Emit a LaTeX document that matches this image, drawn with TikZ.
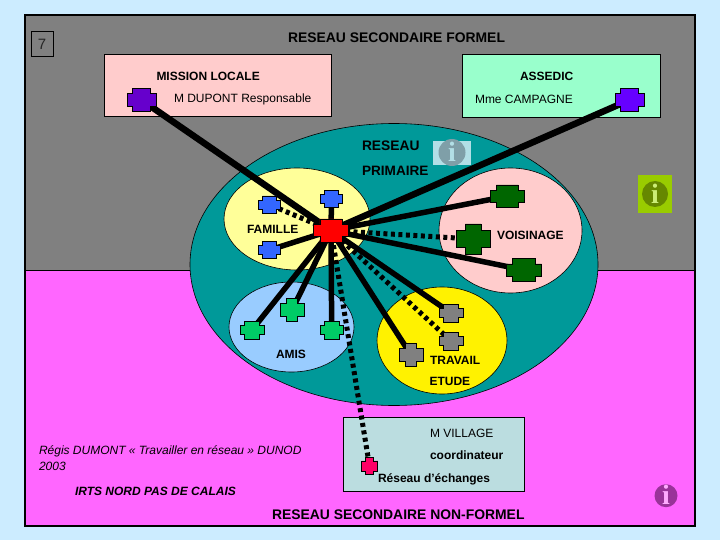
\documentclass[tikz,border=0pt]{standalone}
\usepackage{fontspec}
\setmainfont{Liberation Sans}
\newfontfamily\iconfont{Liberation Serif}
\usetikzlibrary{shapes.geometric}
\definecolor{pagebg}{HTML}{CCECFF}
\definecolor{upperbg}{HTML}{808080}
\definecolor{lowerbg}{HTML}{FF66FF}
\definecolor{tealbg}{HTML}{009999}
\definecolor{famillebg}{HTML}{FFFF99}
\definecolor{voisinbg}{HTML}{FFCCCC}
\definecolor{amisbg}{HTML}{99CCFF}
\definecolor{assedicbg}{HTML}{99FFCC}
\definecolor{villagebg}{HTML}{BBDDE0}
\definecolor{cpurple}{HTML}{6600CC}
\definecolor{cviolet}{HTML}{6600FF}
\definecolor{cblue}{HTML}{3366FF}
\definecolor{cdark}{HTML}{006600}
\definecolor{cgreen}{HTML}{00CC66}
\definecolor{cgrey}{HTML}{808080}
\definecolor{cpink}{HTML}{FF0066}
\definecolor{iboxa}{HTML}{B2DFE6}
\definecolor{idisca}{HTML}{7F9FA8}
\definecolor{iboxb}{HTML}{99CC00}
\definecolor{idiscb}{HTML}{668800}
\definecolor{itxtb}{HTML}{CCEE77}
\definecolor{idiscc}{HTML}{993399}
\definecolor{itxtc}{HTML}{FFAAFF}
\pgfdeclarelayer{back}
\pgfdeclarelayer{lines}
\pgfsetlayers{back,lines,main}
\def\plusxfrac{0.18}
\def\plusyfrac{0.24}
\makeatletter
\pgfdeclareshape{plusblock}{
  \inheritsavedanchors[from=rectangle]
  \inheritanchorborder[from=rectangle]
  \inheritanchor[from=rectangle]{center}
  \inheritanchor[from=rectangle]{north}
  \inheritanchor[from=rectangle]{south}
  \inheritanchor[from=rectangle]{east}
  \inheritanchor[from=rectangle]{west}
  \backgroundpath{
    \southwest \pgf@xa=\pgf@x \pgf@ya=\pgf@y
    \northeast \pgf@xb=\pgf@x \pgf@yb=\pgf@y
    \pgf@xc=\pgf@xb \advance\pgf@xc by -\pgf@xa \pgf@xc=\plusxfrac\pgf@xc
    \pgf@yc=\pgf@yb \advance\pgf@yc by -\pgf@ya \pgf@yc=\plusyfrac\pgf@yc
    \pgfpathmoveto{\pgfqpoint{\dimexpr\pgf@xa+\pgf@xc}{\pgf@ya}}
    \pgfpathlineto{\pgfqpoint{\dimexpr\pgf@xb-\pgf@xc}{\pgf@ya}}
    \pgfpathlineto{\pgfqpoint{\dimexpr\pgf@xb-\pgf@xc}{\dimexpr\pgf@ya+\pgf@yc}}
    \pgfpathlineto{\pgfqpoint{\pgf@xb}{\dimexpr\pgf@ya+\pgf@yc}}
    \pgfpathlineto{\pgfqpoint{\pgf@xb}{\dimexpr\pgf@yb-\pgf@yc}}
    \pgfpathlineto{\pgfqpoint{\dimexpr\pgf@xb-\pgf@xc}{\dimexpr\pgf@yb-\pgf@yc}}
    \pgfpathlineto{\pgfqpoint{\dimexpr\pgf@xb-\pgf@xc}{\pgf@yb}}
    \pgfpathlineto{\pgfqpoint{\dimexpr\pgf@xa+\pgf@xc}{\pgf@yb}}
    \pgfpathlineto{\pgfqpoint{\dimexpr\pgf@xa+\pgf@xc}{\dimexpr\pgf@yb-\pgf@yc}}
    \pgfpathlineto{\pgfqpoint{\pgf@xa}{\dimexpr\pgf@yb-\pgf@yc}}
    \pgfpathlineto{\pgfqpoint{\pgf@xa}{\dimexpr\pgf@ya+\pgf@yc}}
    \pgfpathlineto{\pgfqpoint{\dimexpr\pgf@xa+\pgf@xc}{\dimexpr\pgf@ya+\pgf@yc}}
    \pgfpathclose
  }
}
\makeatother
\tikzset{
  person/.style n args={3}{shape=plusblock,draw=black,line width=0.7pt,fill=#1,
    minimum width=#2 pt,minimum height=#3 pt,inner sep=0pt,outer sep=0pt},
  tallarms/.code={\def\plusxfrac{0.27}\def\plusyfrac{0.21}},
  blob/.style={draw=black,line width=0.6pt},
  panel/.style={draw=black,line width=0.7pt},
  tie/.style={line width=5.5pt,draw=black},
  dottie/.style={line width=5pt,draw=black,dash pattern=on 4pt off 3.5pt},
  lab/.style={anchor=west,inner sep=0pt,outer sep=0pt,font=\fontsize{12}{12}\selectfont\bfseries,text=black},
  plain/.style={lab,font=\fontsize{12}{12}\selectfont},
  infodisc/.style={circle,inner sep=0pt,minimum size=#1 pt},
  infotxt/.style={inner sep=0pt,font=\fontsize{28}{28}\iconfont\bfseries}
}
\begin{document}
\begin{tikzpicture}[x=1pt,y=-1pt]
\useasboundingbox (0,0) rectangle (720,540);
\begin{pgfonlayer}{back}
  \fill[pagebg] (0,0) rectangle (720,540);
  \fill[upperbg] (25,15) rectangle (695,270);
  \fill[lowerbg] (25,270) rectangle (695,526);
  \draw[line width=0.8pt] (25,270) -- (695,270);
  \draw[line width=2.5pt] (25,15) rectangle (695,526);
  \draw[blob,fill=tealbg] (394,264.5) ellipse [x radius=204,y radius=141];
  \draw[blob,fill=famillebg] (297,219) ellipse [x radius=73,y radius=51];
  \draw[blob,fill=voisinbg] (510.5,230.5) ellipse [x radius=71.5,y radius=62.5];
  \draw[blob,fill=amisbg] (291.5,327) ellipse [x radius=62.5,y radius=45];
  \draw[blob,fill=yellow] (442,340.5) ellipse [x radius=65,y radius=53.5];
  \draw[panel,fill=voisinbg] (104.5,54.5) rectangle (331.5,116);
  \draw[panel,fill=assedicbg] (462.5,54.5) rectangle (660.5,117);
  \draw[panel,fill=villagebg] (343.5,417.5) rectangle (524.5,491);
  \draw[panel] (31.5,31.5) rectangle (53,56.5);
  \fill[iboxa] (433,141) rectangle (471,165);
  \fill[iboxb] (638,175) rectangle (672,213.5);
\end{pgfonlayer}

\node[inner sep=0pt,font=\fontsize{15}{15}\selectfont,text=black!85] (seven) at (42,44) {7};
\node[lab] (tformel) at (288,38) {\fontsize{13.9}{14}\selectfont RESEAU SECONDAIRE FORMEL};
\node[lab] (tmission) at (156.5,76.5) {MISSION LOCALE};
\node[plain] (tdupont) at (174,99.5) {M DUPONT Responsable};
\node[lab] (tassedic) at (520,76.5) {ASSEDIC};
\node[plain] (tcampagne) at (475,99.5) {Mme CAMPAGNE};
\node[lab] (treseau) at (362,146) {\fontsize{13.8}{14}\selectfont RESEAU};
\node[lab] (tprimaire) at (362,171) {\fontsize{13.6}{14}\selectfont PRIMAIRE};
\node[lab] (tfamille) at (247,229) {FAMILLE};
\node[lab] (tvoisin) at (497,235) {VOISINAGE};
\node[lab] (tamis) at (276,354) {AMIS};
\node[lab] (ttravail) at (430,360) {TRAVAIL};
\node[lab] (tetude) at (429.5,381) {ETUDE};
\node[plain] (tvillage) at (430,433) {M VILLAGE};
\node[lab] (tcoord) at (430,455) {coordinateur};
\node[lab] (techange) at (378,479) {Réseau d’échanges};
\node[plain,font=\fontsize{12}{12}\selectfont\itshape] (tcite) at (39,451) {Régis DUMONT « Travailler en réseau » DUNOD};
\node[plain,font=\fontsize{12}{12}\selectfont\itshape] (tyear) at (39,466) {2003};
\node[lab,font=\fontsize{12}{12}\selectfont\bfseries\itshape] (tirts) at (75,491) {IRTS NORD PAS DE CALAIS};
\node[lab] (tnonformel) at (272,515) {\fontsize{13.9}{14}\selectfont RESEAU SECONDAIRE NON-FORMEL};

\node[infodisc=27,fill=idisca] (ia) at (452,152.5) {};
\node[infotxt,text=iboxa] (ial) at (452,152) {i};
\node[infodisc=26,fill=idiscb] (ib) at (655,194) {};
\node[infotxt,text=itxtb] (ibl) at (655,193.5) {i};
\node[infodisc=23,fill=idiscc] (ic) at (666,495.7) {};
\node[infotxt,text=itxtc] (icl) at (666,495) {i};

\node[person={cpurple}{28.7}{23.7}] (pml) at (141.5,100) {};
\node[person={cviolet}{29}{23.7}] (pas) at (629.5,100) {};
\node[person={red}{34.5}{23}] (hub) at (331,230.5) {};
\node[person={cblue}{22.5}{17.5}] (fa) at (269.5,204.7) {};
\node[person={cblue}{22.5}{17}] (fb) at (331.5,199) {};
\node[person={cblue}{22.5}{17.5}] (fc) at (269.5,250) {};
\node[person={cdark}{34.5}{22.5}] (va) at (507.3,196.2) {};
\node[person={cdark}{34.5}{30},tallarms] (vb) at (473.3,239) {};
\node[person={cdark}{35}{23.5}] (vc) at (524,270) {};
\node[person={cgreen}{23.7}{17.7}] (aa) at (252,330) {};
\node[person={cgreen}{23.7}{23.4},tallarms] (ab) at (292,310) {};
\node[person={cgreen}{23}{17.7}] (ac) at (331.7,330) {};
\node[person={cgrey}{24}{17.7}] (ta) at (451,313) {};
\node[person={cgrey}{24}{17.7}] (tb) at (451,341) {};
\node[person={cgrey}{24}{23.4},tallarms] (tc) at (411,355) {};
\node[person={cpink}{16.5}{17.5},tallarms] (vl) at (369.5,466) {};

\begin{pgfonlayer}{lines}
  \draw[tie,line width=6.5pt] (pml.center) -- (hub.center);
  \draw[tie,line width=6.5pt] (pas.center) -- (hub.center);
  \draw[tie] (hub.center) -- (fb.center);
  \draw[tie] (hub.center) -- (fc.center);
  \draw[tie] (hub.center) -- (va.center);
  \draw[tie] (hub.center) -- (vc.center);
  \draw[tie] (hub.center) -- (aa.center);
  \draw[tie] (hub.center) -- (ab.center);
  \draw[tie] (hub.center) -- (ac.center);
  \draw[tie] (hub.center) -- (ta.center);
  \draw[tie] (hub.center) -- (tc.center);
  \draw[dottie] (hub.center) -- (fa.center);
  \draw[dottie] (hub.center) -- (vb.center);
  \draw[dottie] (hub.center) -- (tb.center);
  \draw[dottie] (hub.center) -- (vl.center);
\end{pgfonlayer}
\end{tikzpicture}
\end{document}
